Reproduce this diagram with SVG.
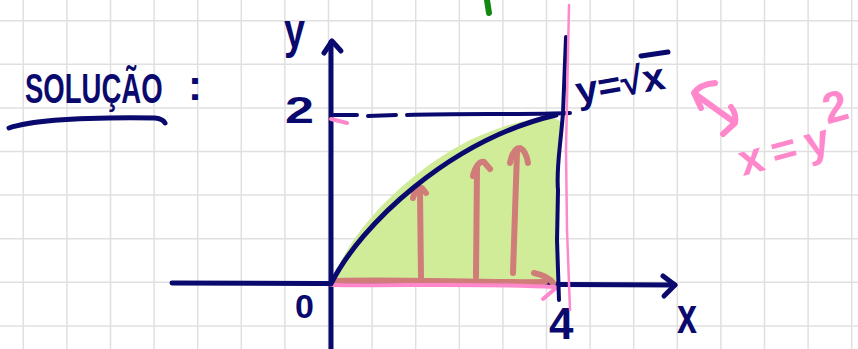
<svg xmlns="http://www.w3.org/2000/svg" width="858" height="349" viewBox="0 0 858 349">
<defs>
<style>
.grid line{stroke:#e0e0e0;stroke-width:1.5}
.navy{fill:none;stroke:#0a0a6e;stroke-linecap:round;stroke-linejoin:round}
.pink{fill:none;stroke:#ff88cc;stroke-linecap:round;stroke-linejoin:round}
.rosy{fill:none;stroke:#d07c78;stroke-width:6;stroke-linecap:round;stroke-linejoin:round}
.tn{fill:#0a0a6e;font-family:"Liberation Sans",Arial,sans-serif;font-weight:bold}
.tp{fill:#ff88cc;font-family:"Liberation Sans",Arial,sans-serif;font-weight:bold}
</style>
</defs>
<rect width="858" height="349" fill="#ffffff"/>
<g class="grid">
<line x1="23.3" y1="0" x2="23.3" y2="349"/><line x1="66.9" y1="0" x2="66.9" y2="349"/><line x1="110.5" y1="0" x2="110.5" y2="349"/><line x1="154.1" y1="0" x2="154.1" y2="349"/><line x1="197.7" y1="0" x2="197.7" y2="349"/><line x1="241.3" y1="0" x2="241.3" y2="349"/><line x1="284.9" y1="0" x2="284.9" y2="349"/><line x1="328.5" y1="0" x2="328.5" y2="349"/><line x1="372.1" y1="0" x2="372.1" y2="349"/><line x1="415.7" y1="0" x2="415.7" y2="349"/><line x1="459.3" y1="0" x2="459.3" y2="349"/><line x1="502.9" y1="0" x2="502.9" y2="349"/><line x1="546.5" y1="0" x2="546.5" y2="349"/><line x1="590.1" y1="0" x2="590.1" y2="349"/><line x1="633.7" y1="0" x2="633.7" y2="349"/><line x1="677.3" y1="0" x2="677.3" y2="349"/><line x1="720.9" y1="0" x2="720.9" y2="349"/><line x1="764.5" y1="0" x2="764.5" y2="349"/><line x1="808.1" y1="0" x2="808.1" y2="349"/><line x1="851.7" y1="0" x2="851.7" y2="349"/>
<line x1="0" y1="20.7" x2="858" y2="20.7"/><line x1="0" y1="64.3" x2="858" y2="64.3"/><line x1="0" y1="107.9" x2="858" y2="107.9"/><line x1="0" y1="151.5" x2="858" y2="151.5"/><line x1="0" y1="195.1" x2="858" y2="195.1"/><line x1="0" y1="238.7" x2="858" y2="238.7"/><line x1="0" y1="282.3" x2="858" y2="282.3"/><line x1="0" y1="325.9" x2="858" y2="325.9"/>
</g>
<g id="title">
<text class="tn" transform="translate(25,103) scale(0.64,1)" x="0" y="0" font-size="43">SOLUÇÃO</text>
<text class="tn" x="188" y="100" font-size="42">:</text>
<path class="navy" stroke-width="5" d="M9,128 C30,121 80,117 155,118 Q163,119 165,123"/>
</g>
<g id="region">
<path fill="#d0ec98" d="M333,283 C346,232 410,170 470,140 C500,126 530,118 552,117 L560,121 L559,283 Z"/>
</g>
<g id="axes">
<path class="navy" stroke-width="5" d="M331,349 L331,42"/>
<path class="navy" stroke-width="5" d="M324,53 L332,41 L341,51"/>
<path class="navy" stroke-width="5" d="M172,283 L675,285"/>
<path class="navy" stroke-width="5" d="M663,276 L675,285 L664,296"/>
<text class="tn" x="284" y="48" font-size="50" textLength="21" lengthAdjust="spacingAndGlyphs">y</text>
<text class="tn" x="677" y="333" font-size="50" textLength="20" lengthAdjust="spacingAndGlyphs">x</text>
<text class="tn" x="285" y="123" font-size="36" textLength="29" lengthAdjust="spacingAndGlyphs">2</text>
<text class="tn" x="295" y="318" font-size="34">0</text>
<text class="tn" x="549" y="339" font-size="44">4</text>
</g>
<g id="arrows">
<path class="rosy" d="M336,281 C400,279 480,283 545,282"/>
<path class="rosy" d="M534,273 Q548,276 553,283"/>
<path class="rosy" d="M421,278 L420,192"/>
<path class="rosy" d="M413,198 C415,190 419,187 422,188 L426,193"/>
<path class="rosy" d="M476,277 L477,168"/>
<path class="rosy" d="M473,176 C475,166 480,161 484,162 L490,169"/>
<path class="rosy" d="M513,273 L517,152"/>
<path class="rosy" d="M510,163 C512,153 516,148 520,148 C524,150 527,156 528,163"/>
<path class="pink" stroke-width="4" d="M331,285 C400,286 480,283 555,287"/>
<path class="pink" stroke-width="4" d="M543,299 L556,288"/>
<path class="pink" stroke-width="4" d="M331,119 L347,123"/>
</g>
<g id="curve">
<path class="navy" stroke-width="5" d="M331,284 C360,225 450,140 556,115"/>
<path class="navy" stroke-width="4" d="M334,115 L357,115 M368,116 L396,115 M407,115 C460,113 520,115 570,113"/>
<path class="navy" stroke-width="4" d="M566,37 L563,113 C560,150 556,170 558,190 L557,240 L559,300"/>
<path class="pink" stroke-width="2.5" d="M569,5 L566,150 L567,230 L570,310"/>
</g>
<g id="label-sqrt">
<g transform="rotate(-10 578 104)">
<text class="tn" x="578" y="104" font-size="38" textLength="90" lengthAdjust="spacingAndGlyphs">y=√x</text>
</g>
<path class="navy" stroke-width="5" d="M641,56 L668,52"/>
</g>
<g id="label-inverse">
<path class="pink" stroke-width="6" d="M715,83 C705,84 698,87 694,93 L701,108 M695,94 L734,122 M731,107 C735,112 736,118 735,123 L723,134"/>
<g transform="rotate(-15 743 176)">
<text class="tp" x="743" y="176" font-size="44" letter-spacing="9">x=y<tspan dx="-7" dy="-28" font-size="44" letter-spacing="0">2</tspan></text>
</g>
</g>
<path fill="none" stroke="#118811" stroke-width="6" stroke-linecap="round" d="M487,0 L489,13"/>
</svg>
